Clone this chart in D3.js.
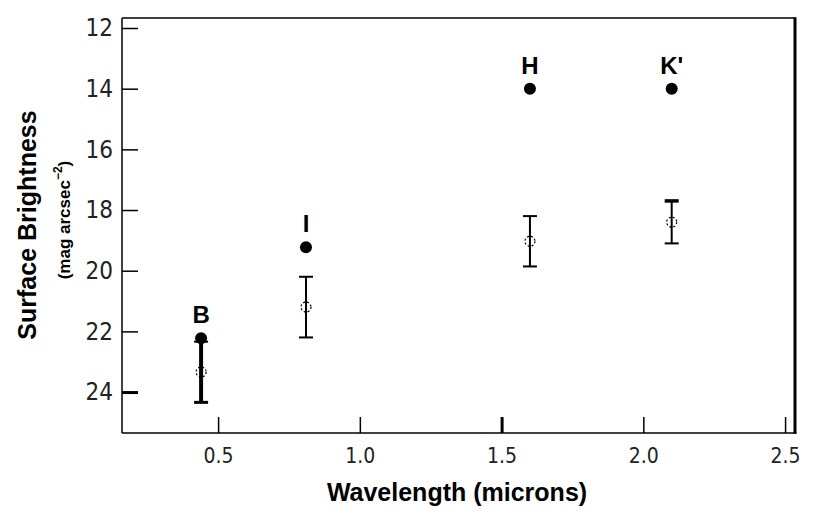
<!DOCTYPE html>
<html><head><meta charset="utf-8">
<script src="https://cdn.jsdelivr.net/npm/d3@7"></script>
<style>body{margin:0;background:#fff;} svg{display:block;}</style>
</head><body>
<svg id="c" width="830" height="517"></svg>
<script>
const bands = ["B", "I", "H", "K'"];
const wavelength = [0.44, 0.81, 1.6, 2.1];
const filledMag = [22.23, 19.23, 14.0, 14.0];
const openMag = [23.34, 21.2, 19.03, 18.4];
const openErr = [1.0, 1.0, 0.83, 0.7];
const boldBar = [true, false, false, false];
const xTicks = [0.5, 1.0, 1.5, 2.0, 2.5];
const yTicks = [12, 14, 16, 18, 20, 22, 24];

const svg = d3.select("#c");
const L = 122, R = 795, T = 18, B = 433;
const x = d3.scaleLinear().domain([0.161, 2.535]).range([L, R]);
const y = d3.scaleLinear().domain([11.67, 25.35]).range([T, B]);

// frame
svg.append("line").attr("x1", L).attr("x2", R).attr("y1", T).attr("y2", T).attr("stroke", "#000").attr("stroke-width", 1.5);
svg.append("line").attr("x1", L).attr("x2", L).attr("y1", T).attr("y2", B).attr("stroke", "#000").attr("stroke-width", 1.5);
svg.append("line").attr("x1", L).attr("x2", R + 1.5).attr("y1", B).attr("y2", B).attr("stroke", "#000").attr("stroke-width", 1.5);
svg.append("line").attr("x1", R).attr("x2", R).attr("y1", T - 0.75).attr("y2", B + 0.75).attr("stroke", "#000").attr("stroke-width", 3);

const tickFont = "Liberation Sans Narrow, DejaVu Sans Condensed, sans-serif";
const boldFont = "Liberation Sans, Arial, sans-serif";

// y axis
const yAxis = d3.axisLeft(y).tickValues(yTicks).tickSize(-16).tickPadding(10).tickFormat(d3.format("d"));
const gy = svg.append("g").attr("transform", `translate(${L},0)`).call(yAxis);
gy.select(".domain").remove();
gy.selectAll(".tick line").attr("stroke", "#000").attr("stroke-width", d => d === 24 ? 3 : 1.5);
gy.selectAll(".tick text").attr("font-family", tickFont)
  .attr("font-size", 24).attr("fill", "#222").attr("x", -9);

// x axis
const xAxis = d3.axisBottom(x).tickValues(xTicks).tickSize(-16).tickPadding(17).tickFormat(d3.format(".1f"));
const gx = svg.append("g").attr("transform", `translate(0,${B})`).call(xAxis);
gx.select(".domain").remove();
gx.selectAll(".tick line").attr("stroke", "#000").attr("stroke-width", d => d === 1.5 ? 3 : 1.5);
gx.selectAll(".tick text").attr("font-family", tickFont)
  .attr("font-size", 21).attr("fill", "#222").attr("dy", "0.6em");

// axis titles
svg.append("text").attr("x", 457).attr("y", 501).attr("text-anchor", "middle")
  .attr("font-family", boldFont).attr("font-weight", "bold").attr("font-size", 25)
  .text("Wavelength (microns)");
svg.append("text").attr("transform", "translate(36,225) rotate(-90)").attr("text-anchor", "middle")
  .attr("font-family", boldFont).attr("font-weight", "bold").attr("font-size", 25)
  .text("Surface Brightness");
const sub = svg.append("text").attr("transform", "translate(70,220) rotate(-90)").attr("text-anchor", "middle")
  .attr("font-family", boldFont).attr("font-weight", "bold").attr("font-size", 17);
sub.append("tspan").text("(mag arcsec");
sub.append("tspan").attr("font-size", 12).attr("dy", -8).text("−2");
sub.append("tspan").attr("dy", 8).text(")");

const data = bands.map((b, i) => ({b, w: wavelength[i], f: filledMag[i], o: openMag[i], e: openErr[i], bold: boldBar[i]}));

// error bars
const eb = svg.append("g").selectAll("g").data(data).join("g");
eb.append("line").attr("x1", d => x(d.w)).attr("x2", d => x(d.w))
  .attr("y1", d => y(d.o - d.e)).attr("y2", d => y(d.o + d.e))
  .attr("stroke", "#000").attr("stroke-width", d => d.bold ? 4 : 2);
eb.append("line").attr("x1", d => x(d.w) - 7).attr("x2", d => x(d.w) + 7)
  .attr("y1", d => y(d.o - d.e)).attr("y2", d => y(d.o - d.e))
  .attr("stroke", "#000").attr("stroke-width", d => (d.b === "K'") ? 3.5 : 2);
eb.append("line").attr("x1", d => x(d.w) - 7).attr("x2", d => x(d.w) + 7)
  .attr("y1", d => y(d.o + d.e)).attr("y2", d => y(d.o + d.e))
  .attr("stroke", "#000").attr("stroke-width", d => d.bold ? 3 : 2);

// open circles
svg.append("g").selectAll("circle").data(data).join("circle")
  .attr("cx", d => x(d.w)).attr("cy", d => y(d.o)).attr("r", 5)
  .attr("fill", "none").attr("stroke", "#000").attr("stroke-width", 1.2).attr("stroke-dasharray", "2,2");

// filled circles
svg.append("g").selectAll("circle").data(data).join("circle")
  .attr("cx", d => x(d.w)).attr("cy", d => y(d.f)).attr("r", 6).attr("fill", "#000");

// band labels
svg.append("g").selectAll("text").data(data).join("text")
  .attr("x", d => x(d.w)).attr("y", d => y(d.f) - 15).attr("text-anchor", "middle")
  .attr("font-family", boldFont).attr("font-weight", "bold").attr("font-size", 24)
  .text(d => d.b);
</script>
</body></html>
